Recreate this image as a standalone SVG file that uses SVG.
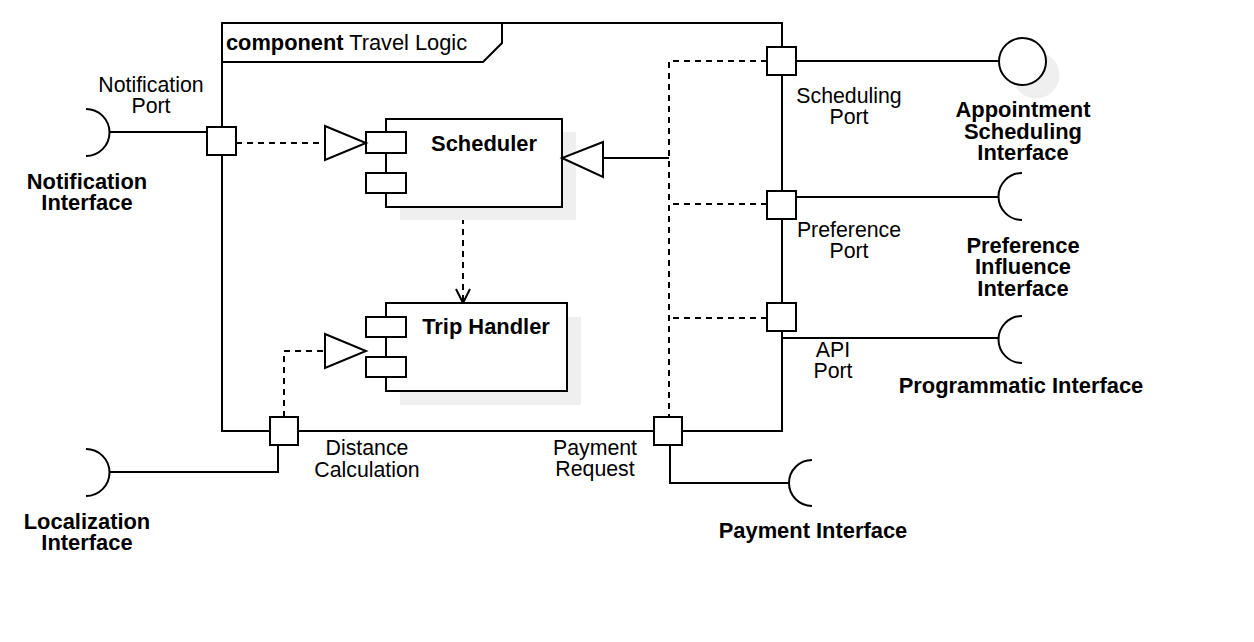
<svg xmlns="http://www.w3.org/2000/svg" width="1254" height="642" viewBox="0 0 1254 642">
<defs>
<style>
.ln{fill:none;stroke:#000;stroke-width:2}
.ds{fill:none;stroke:#000;stroke-width:2;stroke-dasharray:6 5}
.bx{fill:#fff;stroke:#000;stroke-width:2}
.sh{fill:#efefef;stroke:none}
.t{font-family:"Liberation Sans",Arial,sans-serif;font-size:21.3px;fill:#000;text-anchor:middle}
.b{font-weight:bold;font-size:21.9px}
</style>
<marker id="open" viewBox="0 0 16 16" refX="15" refY="8" markerWidth="16" markerHeight="16" markerUnits="userSpaceOnUse" orient="auto">
<path d="M1,1 L15,8 L1,15" fill="none" stroke="#000" stroke-width="2"/>
</marker>
</defs>
<rect width="1254" height="642" fill="#fff"/>

<g id="frame">
<rect x="222" y="23" width="560" height="408" class="ln"/>
<path d="M222,62 L483,62 L502,43 L502,23" class="ln"/>
<text x="226" y="50" class="t" style="text-anchor:start;font-size:21.8px"><tspan class="b" style="font-size:21.8px">component</tspan> Travel Logic</text>
</g>

<g id="connectors">
<path d="M109,132 L207,132" class="ln"/>
<path d="M236,143 L325,143" class="ds"/>
<path d="M463,207 L463,303" class="ds" marker-end="url(#open)"/>
<path d="M284,417 L284,351 L325,351" class="ds"/>
<path d="M278,445 L278,472 L109,472" class="ln"/>
<path d="M603,158 L669,158" class="ln"/>
<path d="M767,61 L669,61 L669,417" class="ds"/>
<path d="M767,204 L669,204" class="ds"/>
<path d="M767,318 L669,318" class="ds"/>
<path d="M796,61 L999,61" class="ln"/>
<path d="M796,197 L999,197" class="ln"/>
<path d="M782,338 L999,338" class="ln"/>
<path d="M670,445 L670,483 L789,483" class="ln"/>
</g>

<g id="scheduler">
<rect x="400" y="132" width="176" height="88" class="sh"/>
<rect x="386" y="119" width="176" height="88" class="bx"/>
<rect x="366" y="132" width="40" height="21" class="bx"/>
<rect x="366" y="173" width="40" height="20" class="bx"/>
<text x="484" y="151" class="t b">Scheduler</text>
</g>

<g id="trip-handler">
<rect x="400" y="317" width="181" height="88" class="sh"/>
<rect x="386" y="303" width="181" height="88" class="bx"/>
<rect x="366" y="317" width="40" height="20" class="bx"/>
<rect x="366" y="357" width="40" height="20" class="bx"/>
<text x="486" y="334" class="t b">Trip Handler</text>
</g>

<g id="sched-provided">
<path d="M325,126 L366,143 L325,160 Z" class="bx"/>
</g>
<g id="trip-provided">
<path d="M325,334 L366,351 L325,368 Z" class="bx"/>
</g>
<g id="sched-required">
<path d="M603,142 L562,158 L603,177 Z" class="bx"/>
</g>

<g id="notification-port">
<rect x="207" y="127" width="29" height="28" class="bx"/>
<text x="151" y="92" class="t">Notification</text>
<text x="151" y="113" class="t">Port</text>
</g>
<g id="notification-interface">
<path d="M86,109 A23.5,23.5 0 0 1 86,156" class="ln"/>
<text x="87" y="189" class="t b">Notification</text>
<text x="87" y="210" class="t b">Interface</text>
</g>

<g id="distance-port">
<rect x="270" y="417" width="28" height="28" class="bx"/>
<text x="367" y="455" class="t">Distance</text>
<text x="367" y="477" class="t">Calculation</text>
</g>
<g id="localization-interface">
<path d="M86,449 A23.5,23.5 0 0 1 86,496" class="ln"/>
<text x="87" y="529" class="t b">Localization</text>
<text x="87" y="550" class="t b">Interface</text>
</g>

<g id="payment-port">
<rect x="654" y="417" width="28" height="28" class="bx"/>
<text x="595" y="455" class="t">Payment</text>
<text x="595" y="476" class="t">Request</text>
</g>
<g id="payment-interface">
<path d="M812,460 A23,23 0 0 0 812,506" class="ln"/>
<text x="813" y="538" class="t b">Payment Interface</text>
</g>

<g id="scheduling-port">
<rect x="767" y="47" width="29" height="28" class="bx"/>
<text x="849" y="103" class="t">Scheduling</text>
<text x="849" y="124" class="t">Port</text>
</g>
<g id="appointment-interface">
<circle cx="1036" cy="75" r="23.5" class="sh"/>
<circle cx="1022.5" cy="61.5" r="23.5" class="bx"/>
<text x="1023" y="117" class="t b">Appointment</text>
<text x="1023" y="139" class="t b">Scheduling</text>
<text x="1023" y="160" class="t b">Interface</text>
</g>

<g id="preference-port">
<rect x="767" y="191" width="29" height="28" class="bx"/>
<text x="849" y="237" class="t">Preference</text>
<text x="849" y="258" class="t">Port</text>
</g>
<g id="preference-interface">
<path d="M1022,173 A23.5,23.5 0 0 0 1022,220" class="ln"/>
<text x="1023" y="253" class="t b">Preference</text>
<text x="1023" y="274" class="t b">Influence</text>
<text x="1023" y="296" class="t b">Interface</text>
</g>

<g id="api-port">
<rect x="767" y="303" width="29" height="28" class="bx"/>
<text x="833" y="357" class="t">API</text>
<text x="833" y="378" class="t">Port</text>
</g>
<g id="programmatic-interface">
<path d="M1022,316 A23.5,23.5 0 0 0 1022,363" class="ln"/>
<text x="1021" y="393" class="t b">Programmatic Interface</text>
</g>
</svg>
